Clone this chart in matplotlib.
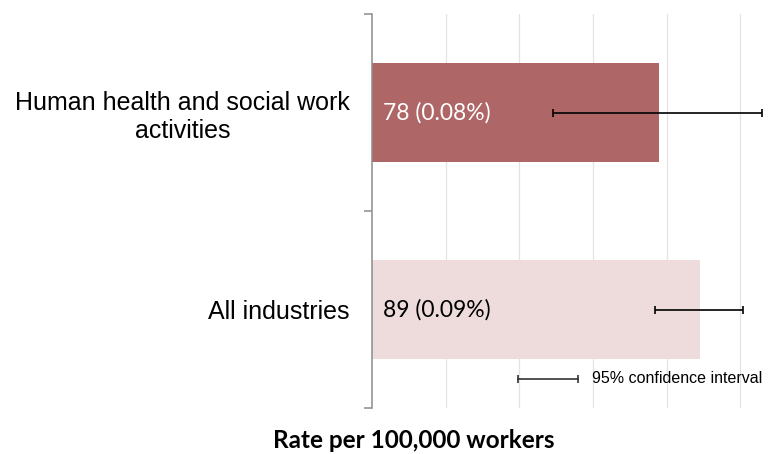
import matplotlib
matplotlib.use("Agg")
import matplotlib.pyplot as plt
import matplotlib.transforms as mtransforms

categories = ["All industries", "Human health and social work\nactivities"]
rates = [89, 78]
pct_labels = ["89 (0.09%)", "78 (0.08%)"]
ci_low = [76.8, 49.1]
ci_high = [100.7, 105.8]
bar_colors = ["#EEDCDC", "#AF6666"]
text_colors = ["#000000", "#FFFFFF"]

W, H = 768, 454
fig = plt.figure(figsize=(W / 100, H / 100), dpi=100)
left, right, top, bottom = 372, 766, 14, 408
ax = fig.add_axes([left / W, 1 - bottom / H, (right - left) / W, (bottom - top) / H])

ypos = list(range(len(categories)))
ax.barh(ypos, rates, height=0.5, color=bar_colors, zorder=2)
xerr = [[r - lo for r, lo in zip(rates, ci_low)], [hi - r for r, hi in zip(rates, ci_high)]]
ax.errorbar(rates, ypos, xerr=xerr, fmt="none", ecolor="black", elinewidth=1.2,
            capsize=3, capthick=1.2, zorder=3)

for y, lab, c in zip(ypos, pct_labels, text_colors):
    ax.text(3, y, lab, color=c, fontsize=16.5, family="Lato", va="center", ha="left", zorder=4)

ax.set_xlim(0, 107)
ax.set_ylim(-0.5, len(categories) - 0.5)
ax.set_xticks([20, 40, 60, 80, 100])
ax.tick_params(axis="x", length=0, labelbottom=False)
ax.grid(axis="x", color="#E3E3E3", linewidth=0.9, zorder=0)

ax.set_yticks(ypos)
ax.set_yticklabels(categories, fontsize=18, family="Liberation Sans", multialignment="center")
ax.tick_params(axis="y", which="major", length=0, pad=16)
ax.set_yticks([-0.5, 0.5, 1.5], minor=True)
ax.tick_params(axis="y", which="minor", length=6, color="#8C8C8C", width=1.1)

for s in ["top", "right", "bottom"]:
    ax.spines[s].set_visible(False)
ax.spines["left"].set_color("#8C8C8C")
ax.spines["left"].set_linewidth(1.1)

# legend for confidence interval
trans = mtransforms.blended_transform_factory(ax.transData, ax.transAxes)
ax.plot([39.6, 55.9], [0.074, 0.074], transform=trans, color="#333333", lw=1.2,
        marker="|", markersize=6, markeredgewidth=1.2, clip_on=False)
ax.text(59.7, 0.074, "95% confidence interval", transform=trans, fontsize=11.5,
        family="Liberation Sans", va="center", ha="left")

fig.text(414 / W, 1 - 440 / H, "Rate per 100,000 workers", fontsize=17.5, fontweight="bold",
         family="Lato", ha="center", va="center")

fig.savefig("out.png", dpi=100)
